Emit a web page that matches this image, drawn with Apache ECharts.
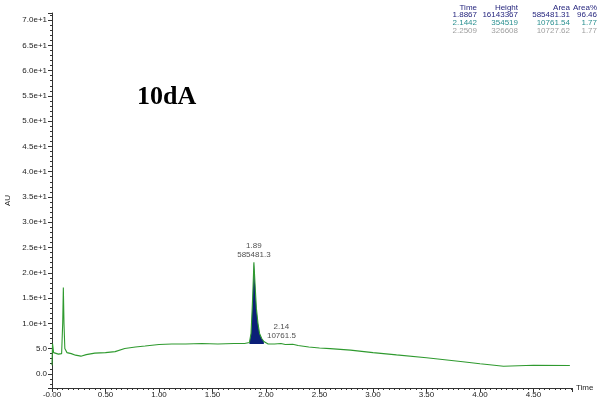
<!DOCTYPE html>
<html>
<head>
<meta charset="utf-8">
<script src="https://cdn.jsdelivr.net/npm/echarts@6/dist/echarts.min.js"></script>
<style>
  html, body { margin: 0; padding: 0; background: #fff; }
  #chart { width: 600px; height: 405px; }
</style>
</head>
<body>
<div id="chart"></div>
<script>
// chromatogram trace (time in min, signal in AU)
const timeMin = [0.00, 0.005, 0.015, 0.03, 0.06, 0.09, 0.10, 0.106, 0.112, 0.12, 0.14, 0.18, 0.22, 0.27, 0.32, 0.40, 0.50, 0.59, 0.68, 0.78, 0.87, 1.00, 1.12, 1.25, 1.40, 1.55, 1.70, 1.80, 1.845, 1.86, 1.87, 1.877, 1.887, 1.897, 1.91, 1.925, 1.94, 1.96, 1.98, 2.02, 2.08, 2.14, 2.18, 2.25, 2.30, 2.40, 2.50, 2.60, 2.79, 3.00, 3.22, 3.50, 3.84, 4.00, 4.09, 4.22, 4.50, 4.84];
const signal  = [1.7, 6.0, 4.2, 4.0, 3.9, 4.0, 10.0, 17.1, 10.0, 5.0, 4.2, 4.0, 3.7, 3.5, 3.8, 4.1, 4.2, 4.4, 5.0, 5.3, 5.5, 5.8, 5.9, 5.9, 6.0, 5.9, 6.0, 6.0, 6.2, 8.0, 12.5, 16.0, 22.1, 18.0, 13.0, 10.0, 8.0, 7.0, 6.4, 5.9, 5.9, 6.0, 5.8, 5.85, 5.6, 5.3, 5.1, 5.0, 4.7, 4.2, 3.75, 3.2, 2.4, 2.0, 1.8, 1.5, 1.7, 1.65];

// integrated peak window
const peakStart = 1.845;
const peakEnd = 2.00;

// peak annotations
const peakLabelTime = [1.887, 2.144];
const peakLabelAU = [22.1, 6.1];
const peakLabelText = ["1.89\n585481.3", "2.14\n10761.5"];

// results table
const tableHeader = ["Time", "Height", "Area", "Area%"];
const tableRows = [
  ["1.8867", "16143367", "585481.31", "96.46"],
  ["2.1442", "354519", "10761.54", "1.77"],
  ["2.2509", "326608", "10727.62", "1.77"],
];
const rowColors = ["#1f1f7a", "#1f1f7a", "#2a9090", "#a0a0a0"];

const trace = timeMin.map((t, i) => [t, signal[i]]);
const peakFill = trace.filter(p => p[0] >= peakStart && p[0] <= peakEnd);
const labelPts = peakLabelTime.map((t, i) => ({ value: [t, peakLabelAU[i]], text: peakLabelText[i] }));

const axisColor = "#333";
const labelFont = { fontSize: 8, color: "#222", fontFamily: "Liberation Sans" };

function yFmt(v) {
  if (v < 10) return v.toFixed(1);
  return v.toExponential(1);
}

// title and table as graphic text
const colRight = [477, 518, 570, 597];
const graphics = [{
  type: "text", left: 137, top: 84,
  style: { text: "10dA", font: 'bold 26px "Liberation Serif"', fill: "#000" }
}];
[tableHeader].concat(tableRows).forEach((row, r) => {
  row.forEach((cell, c) => {
    graphics.push({
      type: "text", x: colRight[c], y: 7.5 + r * 7.6,
      style: { text: cell, font: '8px "Liberation Sans"', fill: rowColors[r], align: "right", verticalAlign: "middle" }
    });
  });
});

const chart = echarts.init(document.getElementById("chart"));
chart.setOption({
  animation: false,
  backgroundColor: "#fff",
  grid: { left: 52, right: 28, top: 13, bottom: 17, outerBoundsMode: "none" },
  graphic: graphics,
  xAxis: {
    type: "value", min: 0, max: 4.86, interval: 0.5,
    name: "Time", nameLocation: "end", nameGap: 4,
    nameTextStyle: { fontSize: 8, color: "#222", fontFamily: "Liberation Sans", verticalAlign: "middle" },
    axisLine: { onZero: false, lineStyle: { color: axisColor, width: 1 } },
    axisTick: { length: 4, lineStyle: { color: axisColor } },
    minorTick: { show: true, splitNumber: 10, length: 2, lineStyle: { color: axisColor } },
    axisLabel: Object.assign({ margin: 3, showMaxLabel: false, formatter: v => v === 0 ? "-0.00" : v.toFixed(2) }, labelFont),
    splitLine: { show: false }
  },
  yAxis: {
    type: "value", min: -2.8, max: 71.4, splitNumber: 15,
    name: "AU", nameLocation: "middle", nameGap: 38,
    nameTextStyle: { fontSize: 8, color: "#222", fontFamily: "Liberation Sans" },
    axisLine: { onZero: false, lineStyle: { color: axisColor, width: 1 } },
    axisTick: { length: 4, lineStyle: { color: axisColor } },
    minorTick: { show: true, splitNumber: 5, length: 2, lineStyle: { color: axisColor } },
    axisLabel: Object.assign({ margin: 5, showMinLabel: false, showMaxLabel: false, formatter: yFmt }, labelFont),
    splitLine: { show: false }
  },
  series: [
    {
      name: "peak", type: "line", data: peakFill,
      symbol: "none", z: 1,
      lineStyle: { width: 0 },
      areaStyle: { color: "#0b1f78", opacity: 1, origin: 5.9 }
    },
    {
      name: "trace", type: "line", data: trace,
      symbol: "none", z: 2,
      lineStyle: { color: "#2f9a2f", width: 1.1 }
    },
    {
      name: "labels", type: "scatter", data: labelPts,
      symbolSize: 0, z: 3,
      label: {
        show: true, position: "top", distance: 3,
        formatter: p => p.data.text,
        fontSize: 8, lineHeight: 9, color: "#222", fontFamily: "Liberation Sans"
      }
    }
  ]
});
</script>
</body>
</html>
